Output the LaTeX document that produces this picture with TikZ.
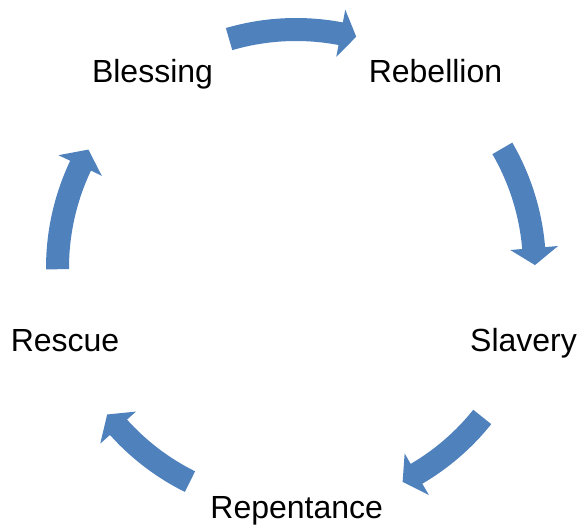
\documentclass[tikz,border=0pt]{standalone}
\usepackage{fontspec}
\setmainfont{Liberation Sans}
\definecolor{arrowblue}{RGB}{79,129,189}
\newcommand\cycarrow[3]{%
  \fill[cyc] (#1:250) arc[start angle=#1, end angle=#2, radius=250pt]
    -- (#2:263) -- (#3:239) -- (#2:215) -- (#2:227)
    arc[start angle=#2, end angle=#1, radius=227pt] -- cycle;}
\begin{document}
\begin{tikzpicture}[x=1pt,y=1pt,
  cyc/.style={fill=arrowblue},
  lbl/.style={anchor=base,inner sep=0pt,font=\fontsize{32}{37}\selectfont}]
\useasboundingbox (0,0) rectangle (580,525);
\node[lbl] (blessing) at (152.5,442.7) {Blessing};
\node[lbl] (rebellion) at (435.5,442.7) {Rebellion};
\node[lbl] (slavery) at (523.5,173.3) {Slavery};
\node[lbl] (repentance) at (296.7,7) {Repentance};
\node[lbl] (rescue) at (65,173.3) {Rescue};
\begin{scope}[shift={(296,257)}]
  \cycarrow{106.3}{79.2}{75.4}
  \cycarrow{30.1}{4.8}{0.7}
  \cycarrow{-38.65}{-59.65}{-63.5}
  \cycarrow{-116.4}{-138.1}{-142.2}
  \cycarrow{180.3}{154.6}{150.3}
\end{scope}
\end{tikzpicture}
\end{document}
